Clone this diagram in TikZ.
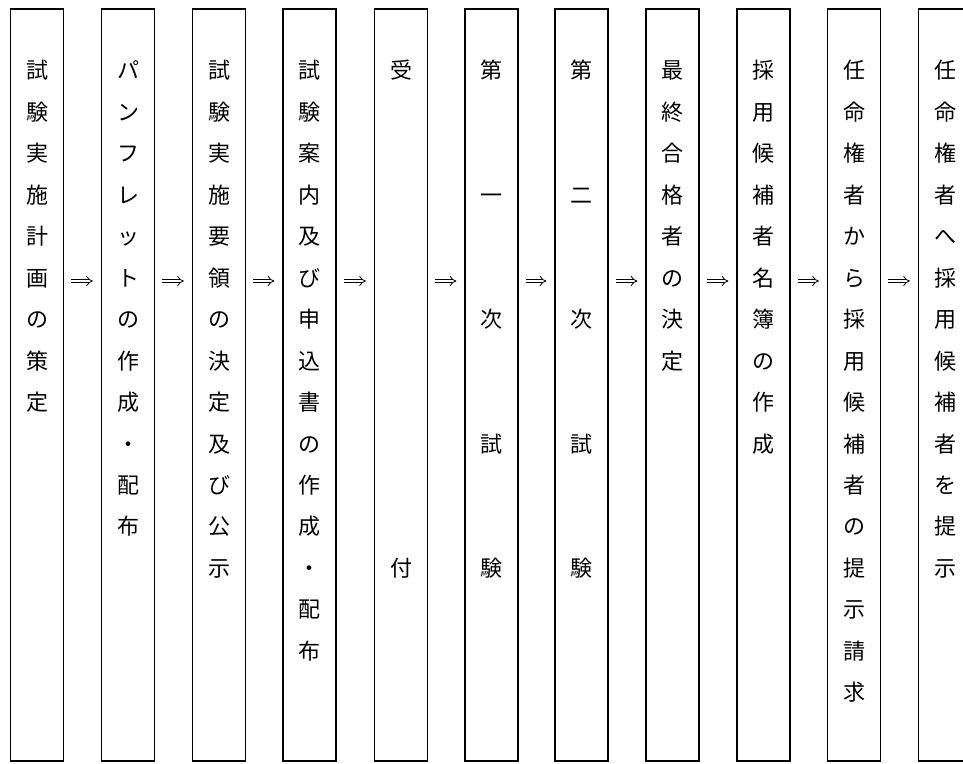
\documentclass[tikz,border=0pt]{standalone}
\usepackage{fontspec}
\newfontfamily\jpfont{Noto Sans CJK JP}
\usetikzlibrary{arrows.meta}
\tikzset{
  stepbox/.style={draw=black, line width=1.2pt, rectangle, minimum width=53pt, minimum height=752pt, inner sep=0pt},
  ch/.style={inner sep=0pt, font=\jpfont\fontsize{22}{22}\selectfont, text height=0.88em, text depth=0.12em},
  imp/.style={double=white, draw=black, line width=0.8pt, double distance=2.6pt, -{Implies}, shorten <=7pt, shorten >=8pt}
}
\newcommand\vcolumn[3]{%
  \foreach \ch/\k in {#3} {\node[ch] (#1-\k) at (#2,{75+41.47*\k}) {\ch};}%
}
\begin{document}
\begin{tikzpicture}[x=1pt,y=-1pt]
\useasboundingbox (0,0) rectangle (963,763);
\clip (0,0) rectangle (963,763);
\fill[white] (0,0) rectangle (963,763);
% boxes
\node[stepbox] (b1) at (37,385) {};
\node[stepbox] (b2) at (128,385) {};
\node[stepbox] (b3) at (219,385) {};
\node[stepbox] (b4) at (309.5,385) {};
\node[stepbox] (b5) at (401,385) {};
\node[stepbox] (b6) at (491.5,385) {};
\node[stepbox] (b7) at (581.5,385) {};
\node[stepbox] (b8) at (672.5,385) {};
\node[stepbox] (b9) at (763.5,385) {};
\node[stepbox] (b10) at (854,385) {};
\node[stepbox] (b11) at (945,385) {};
% texts
\vcolumn{t1}{37}{試/0,験/1,実/2,施/3,計/4,画/5,の/6,策/7,定/8}
\vcolumn{t2}{128}{パ/0,ン/1,フ/2,レ/3,ッ/4,ト/5,の/6,作/7,成/8,・/9,配/10,布/11}
\vcolumn{t3}{219}{試/0,験/1,実/2,施/3,要/4,領/5,の/6,決/7,定/8,及/9,び/10,公/11,示/12}
\vcolumn{t4}{309.5}{試/0,験/1,案/2,内/3,及/4,び/5,申/6,込/7,書/8,の/9,作/10,成/11,・/12,配/13,布/14}
\vcolumn{t5}{401}{受/0,付/12}
\vcolumn{t6}{491.5}{第/0,一/3,次/6,試/9,験/12}
\vcolumn{t7}{581.5}{第/0,二/3,次/6,試/9,験/12}
\vcolumn{t8}{672.5}{最/0,終/1,合/2,格/3,者/4,の/5,決/6,定/7}
\vcolumn{t9}{763.5}{採/0,用/1,候/2,補/3,者/4,名/5,簿/6,の/7,作/8,成/9}
\vcolumn{t10}{854}{任/0,命/1,権/2,者/3,か/4,ら/5,採/6,用/7,候/8,補/9,者/10,の/11,提/12,示/13,請/14,求/15}
\vcolumn{t11}{945}{任/0,命/1,権/2,者/3,へ/4,採/5,用/6,候/7,補/8,者/9,を/10,提/11,示/12}
% arrows
\foreach \a/\b in {b1/b2,b2/b3,b3/b4,b4/b5,b5/b6,b6/b7,b7/b8,b8/b9,b9/b10,b10/b11}
  \draw[imp] (\a.east |- 0,281) -- (\b.west |- 0,281);
\end{tikzpicture}
\end{document}
